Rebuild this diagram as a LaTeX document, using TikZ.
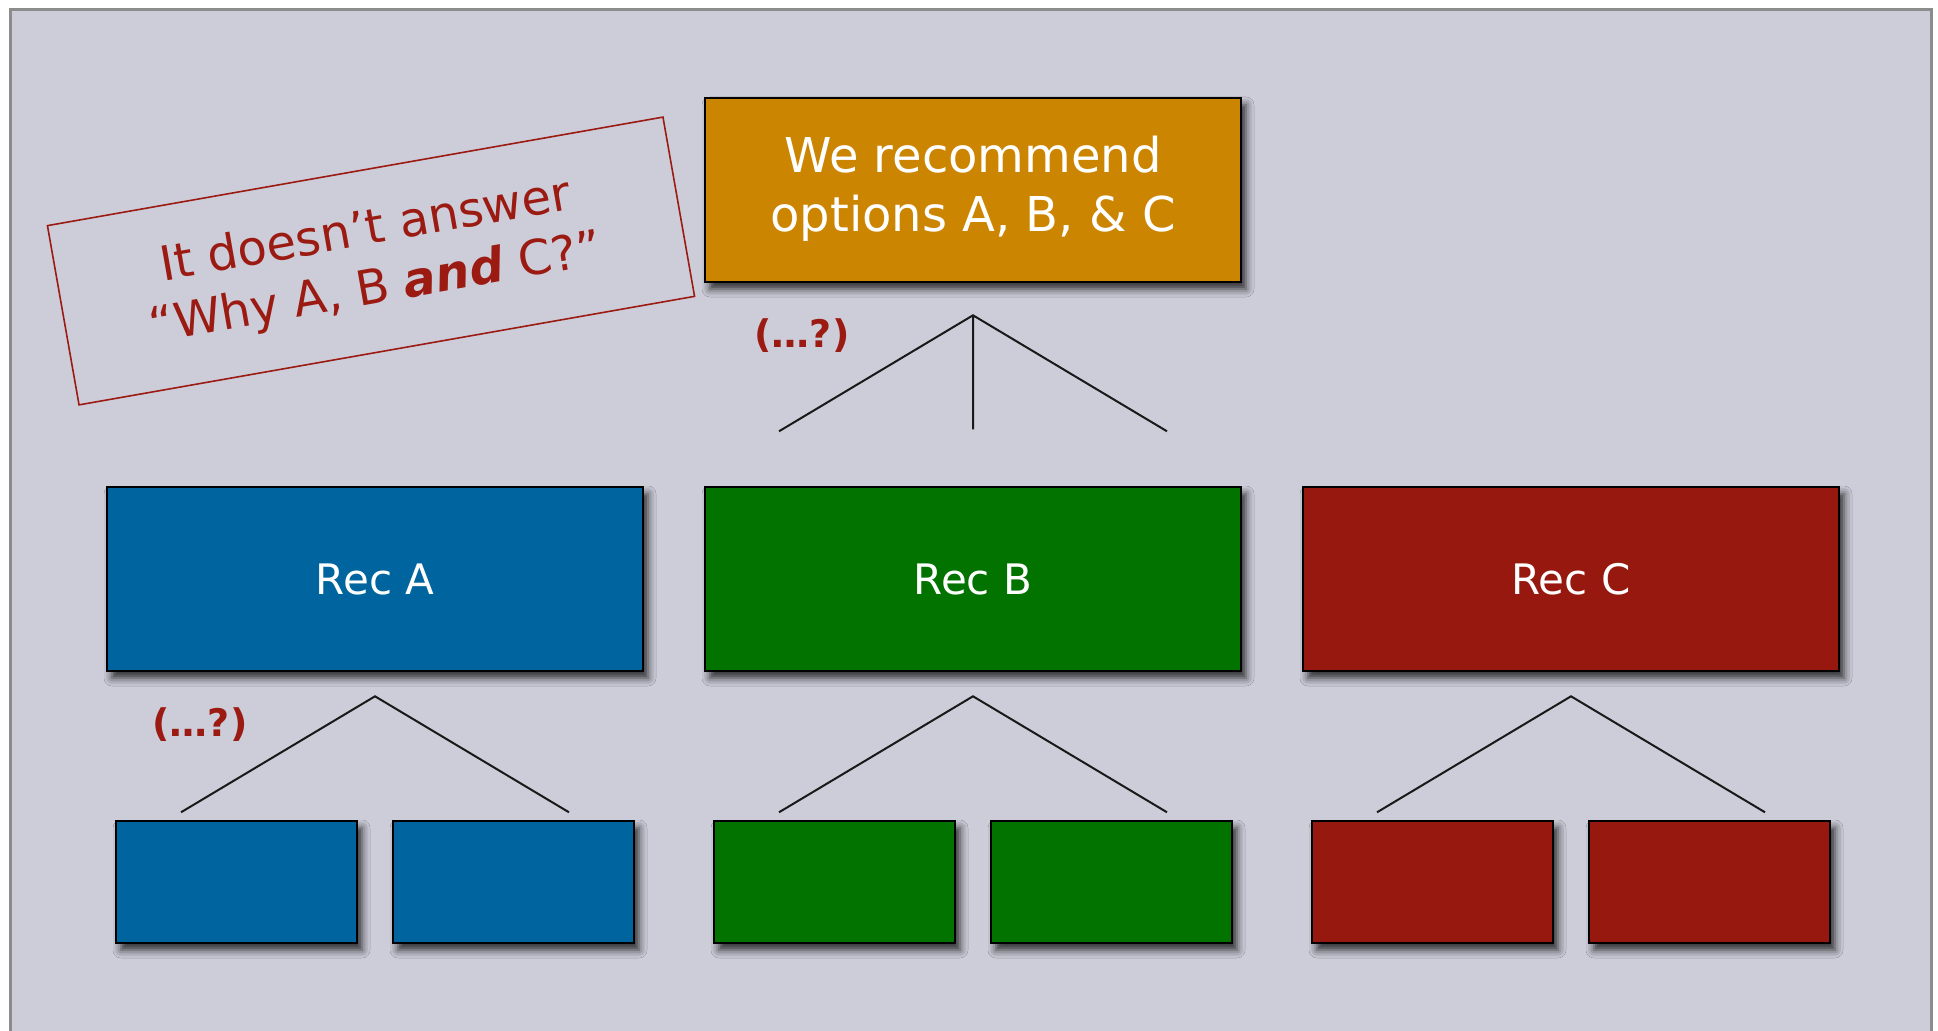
\documentclass[tikz,border=0pt]{standalone}
\usepackage{fontspec}
\setmainfont{DejaVu Sans}
\usetikzlibrary{shadows.blur}
\definecolor{slidebg}{RGB}{205,205,218}
\definecolor{slideframe}{RGB}{140,140,140}
\definecolor{recorange}{RGB}{204,133,0}
\definecolor{recblue}{RGB}{0,101,158}
\definecolor{recgreen}{RGB}{3,115,0}
\definecolor{recred}{RGB}{150,24,14}
\definecolor{notered}{RGB}{155,27,18}
\newcommand{\recfork}[2]{%
    \coordinate (#1) at ([yshift=-12pt]#2.south);
    \coordinate (#1l) at ([xshift=-97pt,yshift=-58pt]#1);
    \coordinate (#1r) at ([xshift=97pt,yshift=-58pt]#1);
    \draw[forkline] (#1l) -- (#1) -- (#1r);%
}
\newcommand{\whynote}{%
    It doesn’t answer\\
    “Why A, B \textbf{\textit{and}} C?”%
}

\begin{document}
\begin{tikzpicture}[sibling distance=299pt,
                    topbox/.style={draw=black, line width=1.3pt, fill=recorange,
                        minimum width=268pt, minimum height=92pt, text=white,
                        align=center, font=\fontsize{24}{29.5}\selectfont,
                        blur shadow={shadow xshift=2.5pt, shadow yshift=-3.5pt,
                            shadow blur radius=4pt, shadow opacity=80}},
                    recbox/.style={topbox, font=\fontsize{21}{25}\selectfont},
                    subbox/.style={topbox, minimum width=120.5pt, minimum height=61pt},
                    notebox/.style={draw=notered, line width=0.8pt, text=notered,
                        rotate=10, minimum width=312.5pt, minimum height=91pt,
                        align=center, font=\fontsize{24}{29.5}\selectfont},
                    askmark/.style={text=notered, font=\fontsize{19}{22}\selectfont\bfseries},
                    forkline/.style={draw=black!90, line width=1pt},
                    level 1/.style={
                        level distance=194.5pt,
                        sibling distance=299pt,
                        edge from parent/.style={draw=none}
                    },
                    level 2/.style={
                        level distance=151.5pt,
                        sibling distance=138.5pt,
                        edge from parent/.style={draw=none}
                    }]

    \useasboundingbox (0,0) rectangle (969pt,-515.5pt);
    \fill[white] (0,0) rectangle (969pt,-515.5pt);
    \filldraw[fill=slidebg, draw=slideframe, line width=1.5pt]
        (5pt,-5pt) rectangle (965.5pt,-540pt);

    \node[topbox] (top) at (486.5pt,-95pt) {We recommend\\options A, B, \& C\rule[-6pt]{0pt}{6pt}}
        child { node[recbox, fill=recblue] (ra) {Rec A}
            child { node[subbox, fill=recblue] (ra1) {} }
            child { node[subbox, fill=recblue] (ra2) {} }
        }
        child { node[recbox, fill=recgreen] (rb) {Rec B}
            child { node[subbox, fill=recgreen] (rb1) {} }
            child { node[subbox, fill=recgreen] (rb2) {} }
        }
        child { node[recbox, fill=recred] (rc) {Rec C}
            child { node[subbox, fill=recred] (rc1) {} }
            child { node[subbox, fill=recred] (rc2) {} }
        };

    \coordinate (tf) at ([yshift=-16pt]top.south);
    \coordinate (tfl) at ([xshift=-97pt,yshift=-58pt]tf);
    \coordinate (tfm) at ([yshift=-57pt]tf);
    \coordinate (tfr) at ([xshift=97pt,yshift=-58pt]tf);
    \draw[forkline] (tfl) -- (tf) -- (tfr) (tf) -- (tfm);

    \recfork{fa}{ra}
    \recfork{fb}{rb}
    \recfork{fc}{rc}

    \node[askmark] (asktop) at ([xshift=-85.5pt,yshift=-10pt]tf) {(…?)};
    \node[askmark] (aska) at ([xshift=-87.5pt,yshift=-14pt]fa) {(…?)};

    \node[notebox] (note) at (185.5pt,-130.5pt) {\whynote};

\end{tikzpicture}
\end{document}
